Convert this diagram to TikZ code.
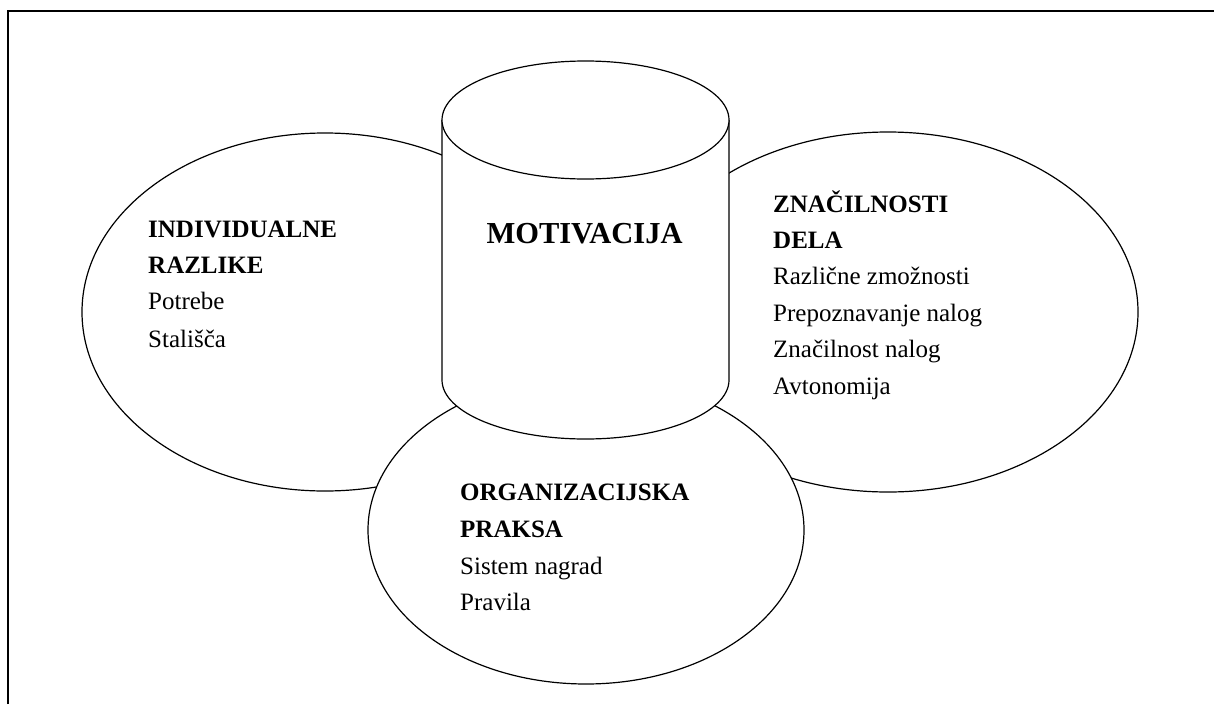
\documentclass[tikz,border=0pt]{standalone}
\usepackage{fontspec}
\setmainfont{Liberation Serif}
\begin{document}
\begin{tikzpicture}[x=1pt,y=-1pt,
  shape line/.style={line width=1.2pt,draw=black},
  frame line/.style={line width=2pt,draw=black},
  head/.style={anchor=base west,inner sep=0pt,font=\fontsize{25}{30}\selectfont\bfseries},
  item/.style={anchor=base west,inner sep=0pt,font=\fontsize{25}{30}\selectfont},
  title/.style={anchor=base,inner sep=0pt,font=\fontsize{30.5}{36}\selectfont\bfseries}]
\useasboundingbox (0,0) rectangle (1214,704);
% frame (only top and left edges are visible)
\draw[frame line] (8,704) -- (8,11) -- (1214,11);
% left and right ellipses
\draw[shape line,fill=white] (325,312) ellipse [x radius=243,y radius=179];
\draw[shape line,fill=white] (888,312) ellipse [x radius=250,y radius=180];
% bottom ellipse
\draw[shape line,fill=white] (586,530) ellipse [x radius=218,y radius=154];
% cylinder
\fill[white] (442,120) -- (442,380) arc[start angle=180,end angle=0,x radius=143.5,y radius=59] -- (729,120) -- cycle;
\draw[shape line] (442,120) -- (442,380) arc[start angle=180,end angle=0,x radius=143.5,y radius=59] -- (729,120);
\draw[shape line,fill=white] (585.5,120) ellipse [x radius=143.5,y radius=59];
% texts
\node[title] (mot) at (584.5,243) {MOTIVACIJA};
\node[head] (l1) at (148,237.3) {INDIVIDUALNE};
\node[head] (l2) at (148,273.3) {RAZLIKE};
\node[item] (l3) at (148,309.3) {Potrebe};
\node[item] (l4) at (148,347.7) {Stališča};
\node[head] (r1) at (773,212.7) {ZNAČILNOSTI};
\node[head] (r2) at (773,248.5) {DELA};
\node[item] (r3) at (773,284.5) {Različne zmožnosti};
\node[item] (r4) at (773,321.5) {Prepoznavanje nalog};
\node[item] (r5) at (773,357.5) {Značilnost nalog};
\node[item] (r6) at (773,394) {Avtonomija};
\node[head] (b1) at (460,500.7) {ORGANIZACIJSKA};
\node[head] (b2) at (460,537.3) {PRAKSA};
\node[item] (b3) at (460,574) {Sistem nagrad};
\node[item] (b4) at (460,610) {Pravila};
\end{tikzpicture}
\end{document}
